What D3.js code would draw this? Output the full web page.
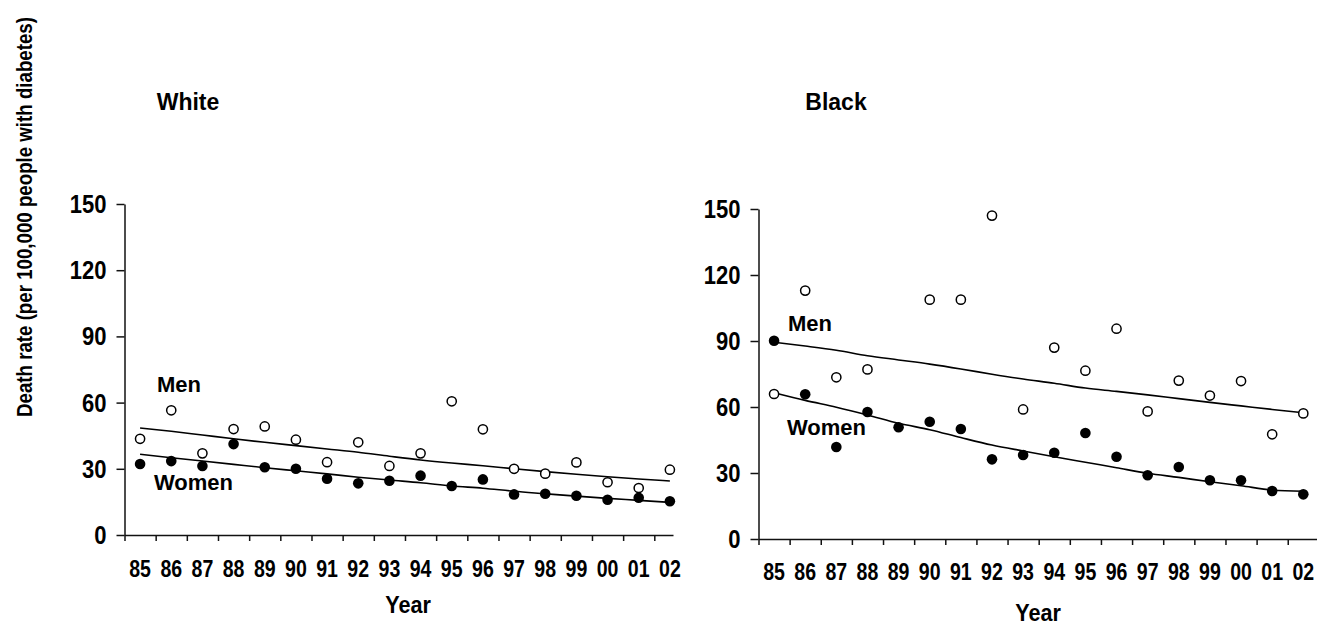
<!DOCTYPE html>
<html>
<head>
<meta charset="utf-8">
<script src="https://cdn.jsdelivr.net/npm/d3@7"></script>
<style>
  body { margin: 0; background: #fff; }
  svg { display: block; font-family: "Liberation Sans", Arial, sans-serif; }
</style>
</head>
<body>
<svg id="chart" width="1317" height="625"></svg>
<script>
// years on the x axis
var years = ["85","86","87","88","89","90","91","92","93","94","95","96","97","98","99","00","01","02"];
var yTicks = [0, 30, 60, 90, 120, 150];

// White panel
var whiteMen   = [43.6,56.5,37.0,48.0,49.2,43.2,33.0,42.0,31.3,37.0,60.6,47.9,30.0,27.8,32.9,23.9,21.3,29.6];
var whiteWomen = [32.2,33.5,31.3,41.2,30.7,30.0,25.5,23.4,24.6,26.9,22.2,25.2,18.4,18.7,17.8,16.0,16.9,15.3];
var whiteMenTrend   = [48.5,47.0,45.3,43.6,42.0,40.5,39.0,37.5,35.7,34.0,32.6,31.4,30.0,28.7,27.5,26.4,25.4,24.5];
var whiteWomenTrend = [36.6,35.0,33.5,32.0,30.5,29.1,27.7,26.2,24.9,23.7,22.2,21.2,19.8,18.7,17.6,16.6,15.7,14.8];

// Black panel (89 open marker not visible)
var blackMen   = [65.9,112.9,73.5,77.1,null,108.8,108.8,147.0,58.9,87.0,76.5,95.6,58.0,72.0,65.2,71.8,47.6,57.1];
var blackWomen = [90.1,65.8,41.8,57.7,50.8,53.3,50.0,36.2,38.2,39.2,48.2,37.4,29.0,32.7,26.7,26.7,21.8,20.3];
var blackMenTrend   = [89.4,87.7,85.8,83.3,81.4,79.5,77.3,74.9,72.7,70.8,68.6,67.1,65.5,63.8,62.1,60.5,58.9,57.4];
var blackWomenTrend = [66.5,63.0,59.9,56.4,52.6,49.7,46.1,42.7,40.0,37.4,34.9,32.4,29.9,28.0,26.0,24.2,22.3,21.7];

var svg = d3.select("#chart");

// rotated y label shared by both panels (condensed along its length)
svg.append("text")
    .attr("transform", "translate(32,217) rotate(-90) scale(0.85,1)")
    .attr("text-anchor", "middle")
    .attr("font-size", 22)
    .attr("font-weight", "bold")
    .text("Death rate (per 100,000 people with diabetes)");

function drawPanel(p) {
    var x = d3.scaleLinear().domain([-0.5, p.endIdx]).range([p.axisX, p.endX]);
    var y = d3.scaleLinear().domain([0, 150]).range([p.y0, p.y150]);
    var g = svg.append("g");

    // x axis: ticks between years
    var xa = g.append("g")
        .attr("transform", "translate(0," + p.y0 + ")")
        .call(d3.axisBottom(x).tickValues(d3.range(-0.5, 17, 1)).tickSize(6).tickSizeOuter(0).tickFormat(""));
    xa.selectAll("path, line").attr("stroke", "#111").attr("stroke-width", 1.5);

    var ya = g.append("g")
        .attr("transform", "translate(" + p.axisX + ",0)")
        .call(d3.axisLeft(y).tickValues(yTicks).tickSize(8).tickSizeOuter(0).tickFormat(""));
    ya.selectAll("path, line").attr("stroke", "#111").attr("stroke-width", 1.5);

    // y tick labels, slightly condensed like the original
    g.selectAll(".yl").data(yTicks).join("text")
        .attr("transform", function(d) { return "translate(" + (p.axisX - 18) + "," + y(d) + ") scale(0.88,1)"; })
        .attr("dy", "0.36em")
        .attr("text-anchor", "end")
        .attr("font-size", 25)
        .attr("font-weight", "bold")
        .text(function(d) { return d; });

    // year labels
    g.selectAll(".yr").data(years).join("text")
        .attr("transform", function(d, i) { return "translate(" + x(i) + "," + p.labelY + ") scale(0.85,1)"; })
        .attr("text-anchor", "middle")
        .attr("font-size", 23)
        .attr("font-weight", "bold")
        .text(function(d) { return d; });

    var line = d3.line()
        .x(function(d, i) { return x(i); })
        .y(function(d) { return y(d); })
        .curve(d3.curveMonotoneX);

    [p.menTrend, p.womenTrend].forEach(function(t) {
        g.append("path").datum(t)
            .attr("d", line)
            .attr("fill", "none")
            .attr("stroke", "#000")
            .attr("stroke-width", 1.6);
    });

    var men = p.men.map(function(v, i) { return {i: i, v: v}; }).filter(function(d) { return d.v != null; });
    var women = p.women.map(function(v, i) { return {i: i, v: v}; });

    g.selectAll(".men").data(men).join("circle")
        .attr("cx", function(d) { return x(d.i); })
        .attr("cy", function(d) { return y(d.v); })
        .attr("r", 4.6)
        .attr("fill", "#fff")
        .attr("stroke", "#000")
        .attr("stroke-width", 1.5);

    g.selectAll(".women").data(women).join("circle")
        .attr("cx", function(d) { return x(d.i); })
        .attr("cy", function(d) { return y(d.v); })
        .attr("r", 5.3)
        .attr("fill", "#000");

    g.append("text")
        .attr("x", p.titleX).attr("y", 110)
        .attr("text-anchor", "middle")
        .attr("font-size", 23).attr("font-weight", "bold")
        .text(p.title);

    g.append("text")
        .attr("transform", "translate(" + (p.titleX + p.yearDx) + "," + p.yearY + ") scale(0.9,1)")
        .attr("text-anchor", "middle")
        .attr("font-size", 24).attr("font-weight", "bold")
        .text("Year");

    g.append("text")
        .attr("x", p.menX).attr("y", p.menY)
        .attr("font-size", 22).attr("font-weight", "bold")
        .text("Men");
    g.append("text")
        .attr("x", p.womenX).attr("y", p.womenY)
        .attr("font-size", 22).attr("font-weight", "bold")
        .text("Women");
}

drawPanel({
    title: "White", titleX: 188, yearDx: 220, yearY: 613,
    axisX: 124.5, endX: 673, endIdx: 17.1,
    y0: 535, y150: 204, labelY: 577,
    men: whiteMen, women: whiteWomen,
    menTrend: whiteMenTrend, womenTrend: whiteWomenTrend,
    menX: 157, menY: 392, womenX: 154, womenY: 490
});

drawPanel({
    title: "Black", titleX: 836, yearDx: 202, yearY: 621,
    axisX: 758.5, endX: 1317, endIdx: 17.44,
    y0: 539, y150: 209, labelY: 580,
    men: blackMen, women: blackWomen,
    menTrend: blackMenTrend, womenTrend: blackWomenTrend,
    menX: 788, menY: 331, womenX: 787, womenY: 435
});
</script>
</body>
</html>
